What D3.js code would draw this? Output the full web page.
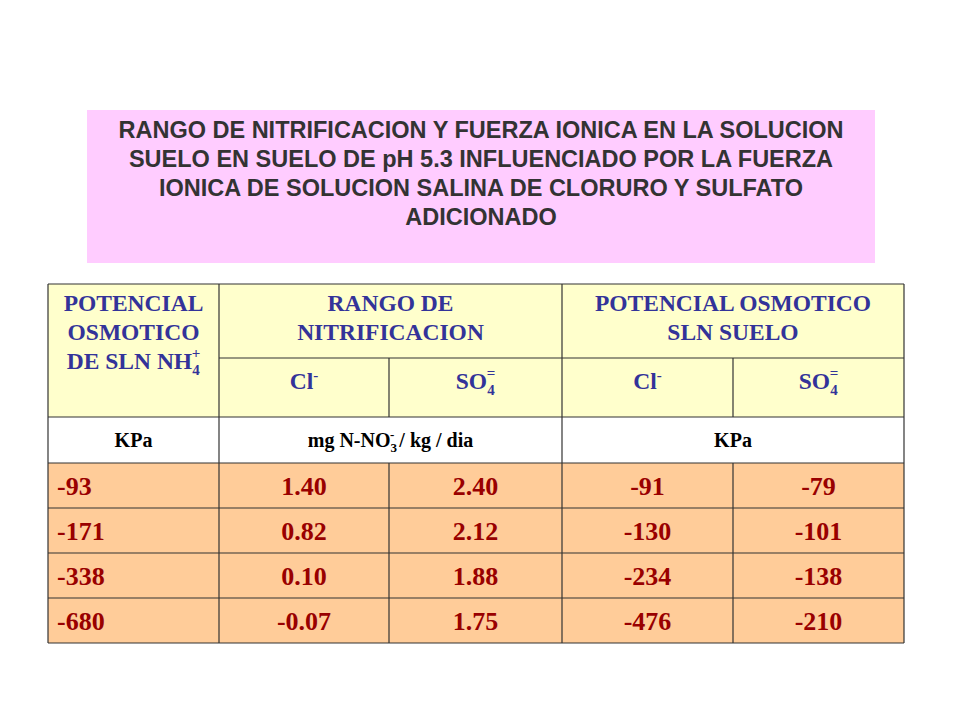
<!DOCTYPE html>
<html><head><meta charset="utf-8">
<script src="https://d3js.org/d3.v7.min.js"></script>
<style>body{margin:0;background:#fff}</style></head>
<body><svg id="c" width="960" height="720"></svg>
<script>
const titleLines = ["RANGO DE NITRIFICACION Y FUERZA IONICA EN LA SOLUCION","SUELO EN SUELO DE pH 5.3 INFLUENCIADO POR LA FUERZA","IONICA DE SOLUCION SALINA DE CLORURO Y SULFATO","ADICIONADO"];
const col1 = ["-93","-171","-338","-680"];
const nitCl = ["1.40","0.82","0.10","-0.07"];
const nitSO4 = ["2.40","2.12","1.88","1.75"];
const osmCl = ["-91","-130","-234","-476"];
const osmSO4 = ["-79","-101","-138","-210"];

const svg = d3.select("#c");
const colX = [48,219,389,562,733,904];
const rowY = [284,358,417,463,508,553,598,643];
const navy="#333399", red="#990000", yellow="#ffffcc", peach="#ffcc99";

svg.append("rect").attr("x",87).attr("y",110).attr("width",788).attr("height",153).attr("fill","#ffccff");
svg.selectAll(".t").data(titleLines).join("text").attr("x",481).attr("y",(d,i)=>138+i*29)
 .attr("text-anchor","middle").attr("font-family","Liberation Sans, Arial").attr("font-weight","bold")
 .attr("font-size",23.5).attr("fill","#333333").text(d=>d);

svg.append("rect").attr("x",colX[0]).attr("y",rowY[0]).attr("width",colX[5]-colX[0]).attr("height",rowY[2]-rowY[0]).attr("fill",yellow);
svg.append("rect").attr("x",colX[0]).attr("y",rowY[2]).attr("width",colX[5]-colX[0]).attr("height",rowY[3]-rowY[2]).attr("fill","#fff");
svg.append("rect").attr("x",colX[0]).attr("y",rowY[3]).attr("width",colX[5]-colX[0]).attr("height",rowY[7]-rowY[3]).attr("fill",peach);

const F="Liberation Serif, Times New Roman, serif";
function txt(x,y,s,size,fill,anchor){
  return svg.append("text").attr("x",x).attr("y",y).attr("text-anchor",anchor||"middle")
   .attr("font-family",F).attr("font-weight","bold").attr("font-size",size).attr("fill",fill).text(s);
}
const H=23.5;
const cx=i=>(colX[i]+colX[i+1])/2;
txt(cx(0),311,"POTENCIAL",H,navy);
txt(cx(0),340,"OSMOTICO",H,navy);
let t=txt(cx(0),369,"DE SLN NH",H,navy);
t.append("tspan").attr("dy",6).attr("font-size",15).text("4");
t.append("tspan").attr("dx",-8).attr("dy",-17).attr("font-size",15).text("+");
txt((colX[1]+colX[3])/2,311,"RANGO DE",H,navy);
txt((colX[1]+colX[3])/2,340,"NITRIFICACION",H,navy);
txt((colX[3]+colX[5])/2,311,"POTENCIAL OSMOTICO",H,navy);
txt((colX[3]+colX[5])/2,340,"SLN SUELO",H,navy);
[1,3].forEach(i=>{
  let a=txt(cx(i),389,"Cl",H,navy); a.append("tspan").attr("dy",-9).attr("font-size",15).text("-");
  let b=txt(cx(i+1),389,"SO",H,navy); b.append("tspan").attr("dy",6).attr("font-size",15).text("4");
  b.append("tspan").attr("dx",-8).attr("dy",-17).attr("font-size",15).text("=");
});
txt(cx(0),447,"KPa",20,"#000");
let m=txt((colX[1]+colX[3])/2,447,"mg N-NO",20,"#000");
m.append("tspan").attr("dy",5).attr("font-size",13).text("3");
m.append("tspan").attr("dx",-7).attr("dy",-13).attr("font-size",13).text("-");
m.append("tspan").attr("dy",8).text(" / kg / dia");
txt((colX[3]+colX[5])/2,447,"KPa",20,"#000");

const cols=[col1,nitCl,nitSO4,osmCl,osmSO4];
cols.forEach((arr,ci)=>{
  svg.selectAll(".d"+ci).data(arr).join("text")
   .attr("x",ci===0?57:cx(ci)).attr("y",(d,i)=>(rowY[3+i]+rowY[4+i])/2+9)
   .attr("text-anchor",ci===0?"start":"middle").attr("font-family",F).attr("font-weight","bold")
   .attr("font-size",26).attr("fill",red).text(d=>d);
});

const g=svg.append("g").attr("stroke","#333").attr("stroke-width",1.2);
const hl=(x1,x2,y)=>g.append("line").attr("x1",x1).attr("x2",x2).attr("y1",y).attr("y2",y);
const vl=(x,y1,y2)=>g.append("line").attr("x1",x).attr("x2",x).attr("y1",y1).attr("y2",y2);
hl(colX[0],colX[5],rowY[0]); hl(colX[1],colX[5],rowY[1]);
rowY.slice(2).forEach(y=>hl(colX[0],colX[5],y));
vl(colX[0],rowY[0],rowY[7]); vl(colX[5],rowY[0],rowY[7]);
vl(colX[1],rowY[0],rowY[7]); vl(colX[3],rowY[0],rowY[7]);
vl(colX[2],rowY[1],rowY[2]); vl(colX[4],rowY[1],rowY[2]);
vl(colX[2],rowY[3],rowY[7]); vl(colX[4],rowY[3],rowY[7]);
</script></body></html>
